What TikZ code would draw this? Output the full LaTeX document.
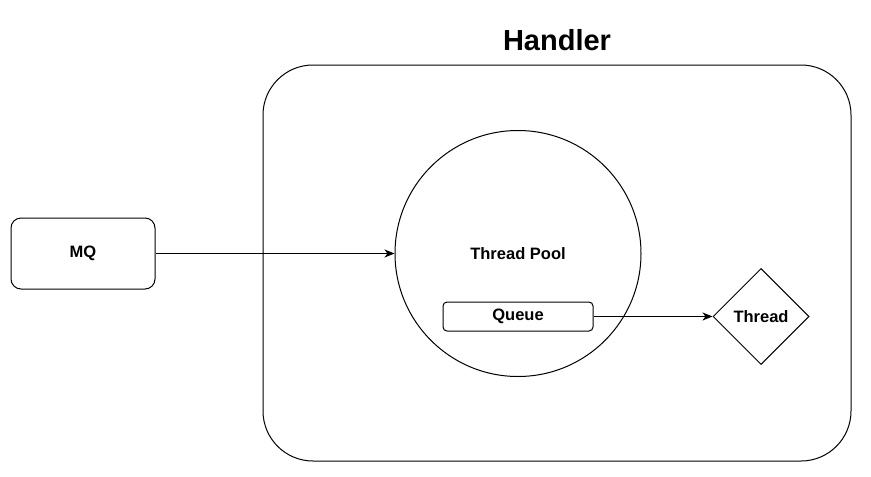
\documentclass[tikz,border=0pt]{standalone}
\usepackage{fontspec}
\setmainfont{Liberation Sans}
\usetikzlibrary{arrows.meta,shapes.geometric}
\begin{document}
\begin{tikzpicture}[x=1pt,y=-1pt,
  lbl/.style={font=\fontsize{16.5}{19}\selectfont\bfseries},
  box/.style={draw,line width=1pt,rounded corners=10pt,inner sep=0pt,lbl},
  arr/.style={line width=1pt,-{Stealth[length=10pt,width=8pt,inset=3pt]}}]
\useasboundingbox (0,0) rectangle (871,477);
\node[font=\fontsize{29}{33}\selectfont\bfseries] (title) at (557,40) {Handler};
\node[draw,line width=1pt,rounded corners=50pt,minimum width=588pt,minimum height=396pt,inner sep=0pt] (handler) at (557,263) {};
\node[box,minimum width=144pt,minimum height=71pt] (mq) at (83,253.5) {MQ};
\node[draw,circle,line width=1pt,minimum size=246pt,inner sep=0pt,lbl] (pool) at (518,253.5) {Thread Pool};
\node[box,rounded corners=4pt,minimum width=150pt,minimum height=29pt] (queue) at (518,316.5) {Queue};
\node[draw,diamond,line width=1pt,minimum width=96pt,minimum height=96pt,aspect=1,inner sep=0pt,lbl] (thread) at (761,316.5) {Thread};
\draw[arr] (mq.east) -- (pool.west);
\draw[arr] (queue.east) -- (thread.west);
\end{tikzpicture}
\end{document}
